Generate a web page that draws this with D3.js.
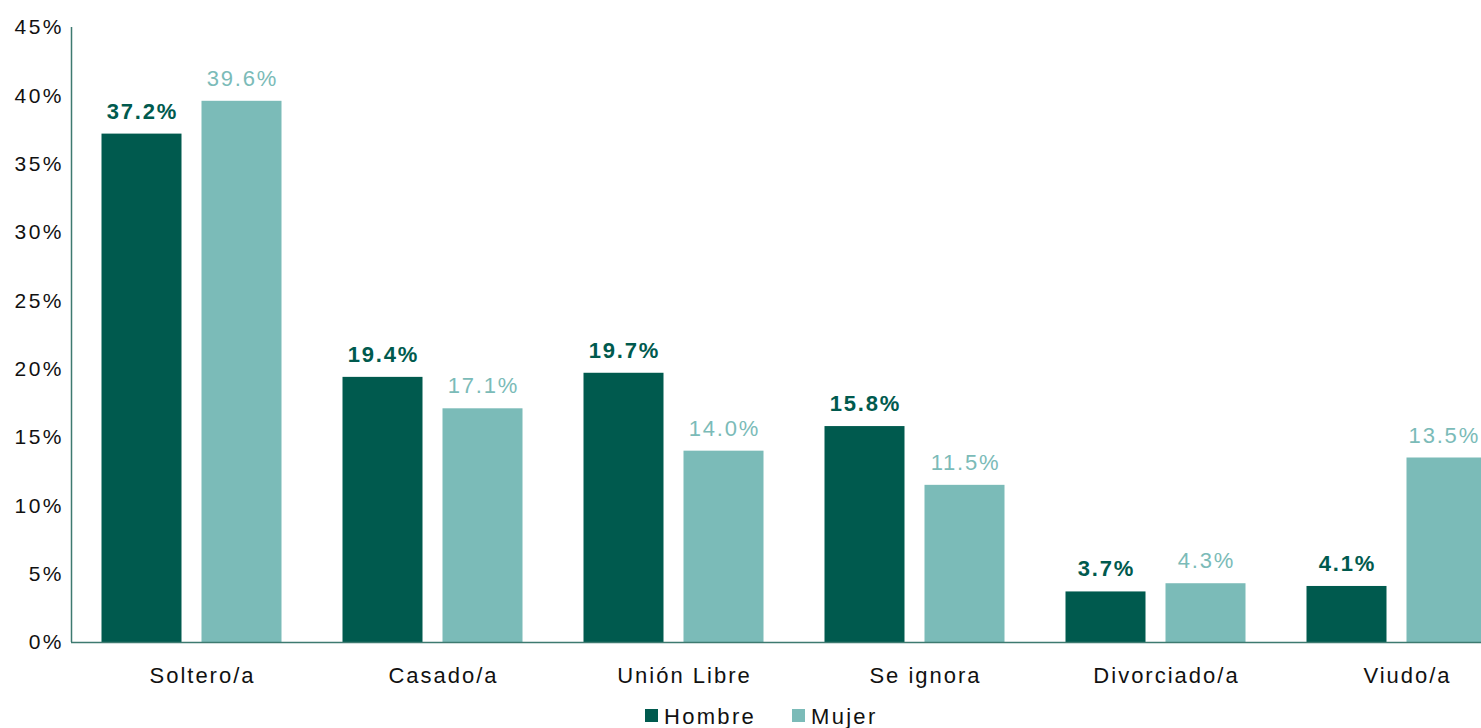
<!DOCTYPE html>
<html>
<head>
<meta charset="utf-8">
<script src="https://cdn.jsdelivr.net/npm/d3@7"></script>
<style>
  html, body { margin: 0; padding: 0; background: #fff; overflow: hidden; }
  svg { display: block; font-family: "Liberation Sans", Arial, sans-serif; }
</style>
</head>
<body>
<svg id="chart" width="1481" height="728"></svg>
<script>
const categories = ["Soltero/a", "Casado/a", "Unión Libre", "Se ignora", "Divorciado/a", "Viudo/a"];
const seriesNames = ["Hombre", "Mujer"];
const hombre = [37.2, 19.4, 19.7, 15.8, 3.7, 4.1];
const mujer = [39.6, 17.1, 14.0, 11.5, 4.3, 13.5];
const yTicks = [0, 5, 10, 15, 20, 25, 30, 35, 40, 45];
const colors = ["#005a4e", "#7bbbb8"];

const svg = d3.select("#chart");
const W = 1481;
const x0 = 71, x1 = 1517, yTop = 27, yBottom = 642;

const x = d3.scaleBand().domain(categories).range([x0, x1]).paddingInner(0).paddingOuter(0);
const xSub = d3.scaleBand().domain(seriesNames).range([30.5, x.bandwidth() - 30.5]).paddingInner(0.2);
const y = d3.scaleLinear().domain([0, 45]).range([yBottom, yTop]);

const rows = categories.map((c, i) => ({ cat: c, vals: [hombre[i], mujer[i]] }));

// y tick labels
svg.append("g").selectAll("text")
  .data(yTicks)
  .enter().append("text")
    .attr("x", 64)
    .attr("y", d => y(d))
    .attr("dy", "0.35em")
    .attr("text-anchor", "end")
    .attr("font-size", 21)
    .attr("letter-spacing", 2.5)
    .attr("fill", "#111")
    .text(d => d + "%");

// bars
const groups = svg.append("g").selectAll("g")
  .data(rows)
  .enter().append("g")
    .attr("transform", d => `translate(${x(d.cat)},0)`);

groups.selectAll("rect")
  .data(d => d.vals.map((v, k) => ({ key: seriesNames[k], v: v, k: k })))
  .enter().append("rect")
    .attr("x", d => xSub(d.key))
    .attr("width", xSub.bandwidth())
    .attr("y", d => y(d.v))
    .attr("height", d => yBottom - y(d.v))
    .attr("fill", d => colors[d.k]);

groups.selectAll("text.val")
  .data(d => d.vals.map((v, k) => ({ key: seriesNames[k], v: v, k: k, cat: d.cat })))
  .enter().append("text")
    .attr("class", "val")
    .attr("x", d => xSub(d.key) + xSub.bandwidth() / 2 + 1)
    .attr("y", d => y(d.v) - 15)
    .attr("text-anchor", "middle")
    .attr("font-size", 22)
    .attr("letter-spacing", 1.8)
    .attr("font-weight", d => d.k === 0 ? "bold" : "normal")
    .attr("fill", d => colors[d.k])
    .text(d => d.v.toFixed(1) + "%")
    .each(function(d) {
      // keep labels inside the visible window
      const half = this.getComputedTextLength() / 2;
      const cx = x(d.cat) + xSub(d.key) + xSub.bandwidth() / 2 + 1;
      if (cx + half > W - 1) d3.select(this).attr("x", W - 1 - half - x(d.cat));
    });

// category labels
svg.append("g").selectAll("text")
  .data(categories)
  .enter().append("text")
    .attr("x", d => x(d) + x.bandwidth() / 2 + 11)
    .attr("y", 683)
    .attr("text-anchor", "middle")
    .attr("font-size", 22)
    .attr("letter-spacing", 2)
    .attr("fill", "#111")
    .text(d => d);

// axis lines
svg.append("line")
  .attr("x1", x0 + 0.5).attr("x2", x0 + 0.5)
  .attr("y1", yTop).attr("y2", yBottom)
  .attr("stroke", "#3d7a70").attr("stroke-width", 1.5);
svg.append("line")
  .attr("x1", x0).attr("x2", W)
  .attr("y1", yBottom + 0.5).attr("y2", yBottom + 0.5)
  .attr("stroke", "#3d7a70").attr("stroke-width", 1.5);

// legend
const legend = svg.append("g").attr("transform", "translate(645,716)");
const legendX = [0, 147];
seriesNames.forEach((s, i) => {
  legend.append("rect")
    .attr("x", legendX[i]).attr("y", -7)
    .attr("width", 13).attr("height", 13)
    .attr("fill", colors[i]);
  legend.append("text")
    .attr("x", legendX[i] + 19).attr("y", 0)
    .attr("dy", "0.38em")
    .attr("font-size", 22)
    .attr("letter-spacing", 2.3)
    .attr("fill", "#111")
    .text(s);
});
</script>
</body>
</html>
